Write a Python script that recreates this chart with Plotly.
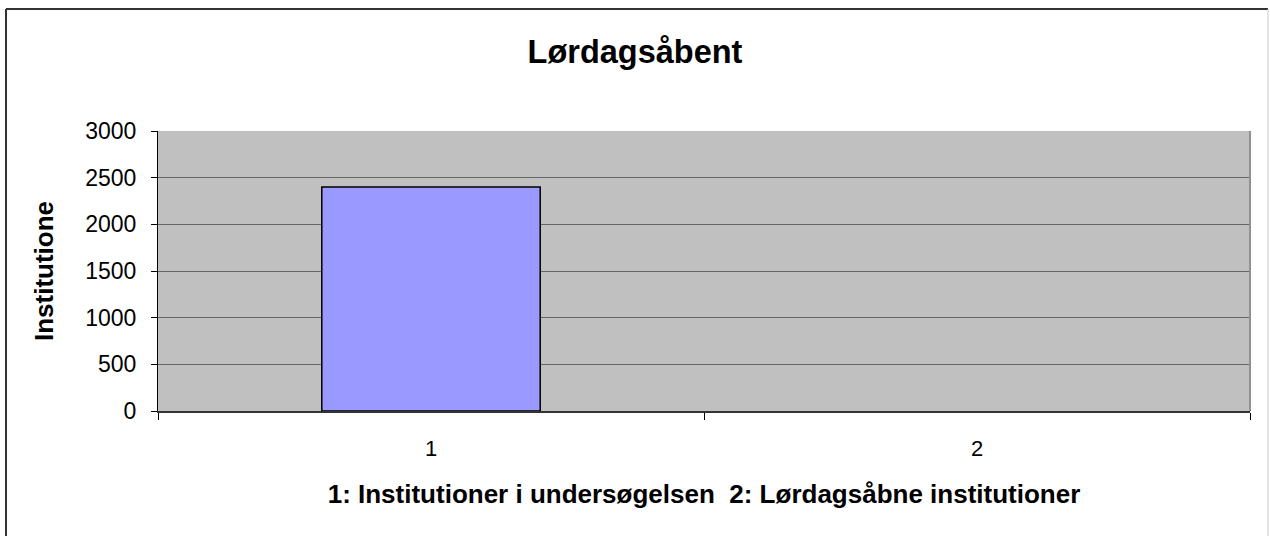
import plotly.graph_objects as go

categories = ["1", "2"]
values = [2400, 0]
y_ticks = [0, 500, 1000, 1500, 2000, 2500, 3000]

title_text = "Lørdagsåbent"
x_title = "1: Institutioner i undersøgelsen\u00a0\u00a02: Lørdagsåbne institutioner"
y_title = "Institutione"

W, H = 1270, 536
L, R, T, B = 158, 20, 131, 125
pw, ph = W - L - R, H - T - B

def px_x(x):
    return (x - L) / pw

def px_y(y):
    return (H - B - y) / ph

fig = go.Figure()
fig.add_trace(go.Bar(
    x=categories, y=values,
    marker=dict(color="#9999FF", line=dict(color="#000000", width=[1.5, 0])),
    width=0.4,
))

font = "Liberation Sans, Arial, sans-serif"

fig.update_layout(
    width=W, height=H,
    margin=dict(l=L, r=R, t=T, b=B),
    paper_bgcolor="white",
    plot_bgcolor="#C0C0C0",
    showlegend=False,
    title=dict(text="<b>" + title_text + "</b>", x=0.5, xanchor="center",
               y=1 - 52 / H, yanchor="middle", yref="container",
               font=dict(family=font, size=32.5, color="black")),
    font=dict(family=font, color="black"),
)

fig.update_xaxes(
    type="category",
    tickson="boundaries",
    ticks="outside", ticklen=7, tickcolor="black", tickwidth=1,
    ticklabelstandoff=17,
    showline=True, linecolor="#333333", linewidth=2,
    showgrid=False,
    tickfont=dict(family=font, size=22, color="black"),
    title=dict(text="<b>" + x_title + "</b>", standoff=24,
               font=dict(family=font, size=26, color="black")),
    range=[-0.5, 1.5],
)

fig.update_yaxes(
    range=[0, 3000],
    tickvals=y_ticks,
    ticks="outside", ticklen=6, tickcolor="black", tickwidth=1,
    ticklabelstandoff=10,
    showline=True, linecolor="black", linewidth=1,
    showgrid=True, gridcolor="#666666", gridwidth=1,
    zeroline=False,
    tickfont=dict(family=font, size=23, color="black"),
    title=dict(text="<b>" + y_title + "</b>", standoff=24,
               font=dict(family=font, size=26, color="black")),
)

# right border of plot area (light gray)
fig.add_shape(type="line", xref="paper", yref="paper",
              x0=1, x1=1, y0=0, y1=1, line=dict(color="#909090", width=2))
# outer chart border
fig.add_shape(type="line", xref="paper", yref="paper",
              x0=px_x(6), x1=px_x(1268), y0=px_y(9), y1=px_y(9),
              line=dict(color="#333333", width=2))
fig.add_shape(type="line", xref="paper", yref="paper",
              x0=px_x(6), x1=px_x(6), y0=px_y(9), y1=px_y(545),
              line=dict(color="#333333", width=2))
fig.add_shape(type="line", xref="paper", yref="paper",
              x0=px_x(1268), x1=px_x(1268), y0=px_y(9), y1=px_y(545),
              line=dict(color="#C8C8C8", width=1))

fig.write_html("out.html",
               config={"displayModeBar": False},
               post_script="document.body.style.margin='0';document.body.style.padding='0';")
